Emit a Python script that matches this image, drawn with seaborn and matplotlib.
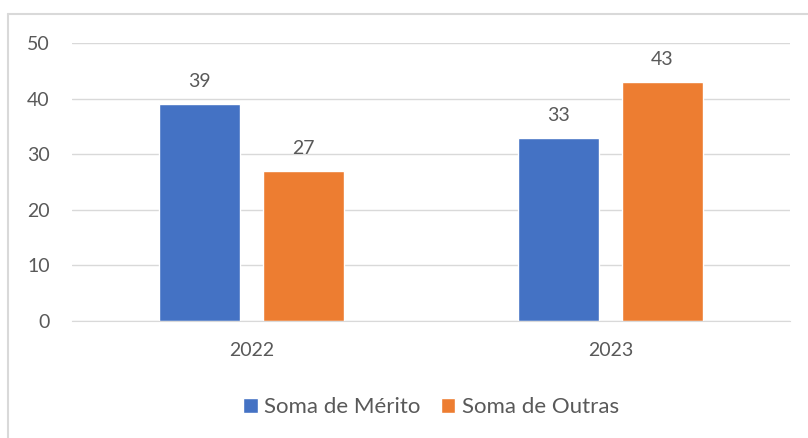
import pandas as pd
import seaborn as sns
import matplotlib as mpl
from matplotlib import pyplot as plt

years = ['2022', '2023']
merito = [39, 33]
outras = [27, 43]
series_names = ['Soma de Mérito', 'Soma de Outras']
colors = ['#4472C4', '#ED7D31']

df = pd.DataFrame({
    'ano': years * 2,
    'valor': merito + outras,
    'serie': [series_names[0]] * 2 + [series_names[1]] * 2,
})

sns.set_style('white')
plt.rcParams['font.family'] = ['Lato', 'DejaVu Sans']
text_color = '#595959'

fig = plt.figure(figsize=(8.08, 4.38), dpi=100)
ax = fig.add_axes([72 / 808, (438 - 321) / 438, (790 - 72) / 808, (321 - 43) / 438])

sns.barplot(data=df, x='ano', y='valor', hue='serie', palette=colors,
            width=0.58, gap=0.22, ax=ax, legend=True, saturation=1)

for cont in ax.containers:
    ax.bar_label(cont, padding=10, fontsize=14, color=text_color)

ax.set_ylim(0, 50)
ax.set_yticks(range(0, 51, 10))
ax.yaxis.grid(True, color='#D9D9D9', linewidth=1)
ax.set_axisbelow(True)
for s in ['top', 'right', 'left']:
    ax.spines[s].set_visible(False)
ax.spines['bottom'].set_color('#D9D9D9')
ax.tick_params(axis='both', length=0, labelsize=14, labelcolor=text_color)
ax.tick_params(axis='y', pad=16)
ax.tick_params(axis='x', pad=15)
ax.set_xlabel('')
ax.set_ylabel('')

handles, labels = ax.get_legend_handles_labels()
ax.legend(handles, labels, loc='center', bbox_to_anchor=(0.5, -0.31),
          ncol=2, frameon=False, fontsize=16, handlelength=0.65,
          handleheight=0.65, handletextpad=0.3, columnspacing=0.9,
          labelcolor=text_color)

# chart border (top and left visible in the original crop)
fig.add_artist(plt.Line2D([8 / 808, 1.0], [1 - 14 / 438] * 2, color='#D9D9D9', lw=1.5))
fig.add_artist(plt.Line2D([8 / 808] * 2, [0.0, 1 - 14 / 438], color='#D9D9D9', lw=1.5))

fig.savefig('out.png', dpi=100)
